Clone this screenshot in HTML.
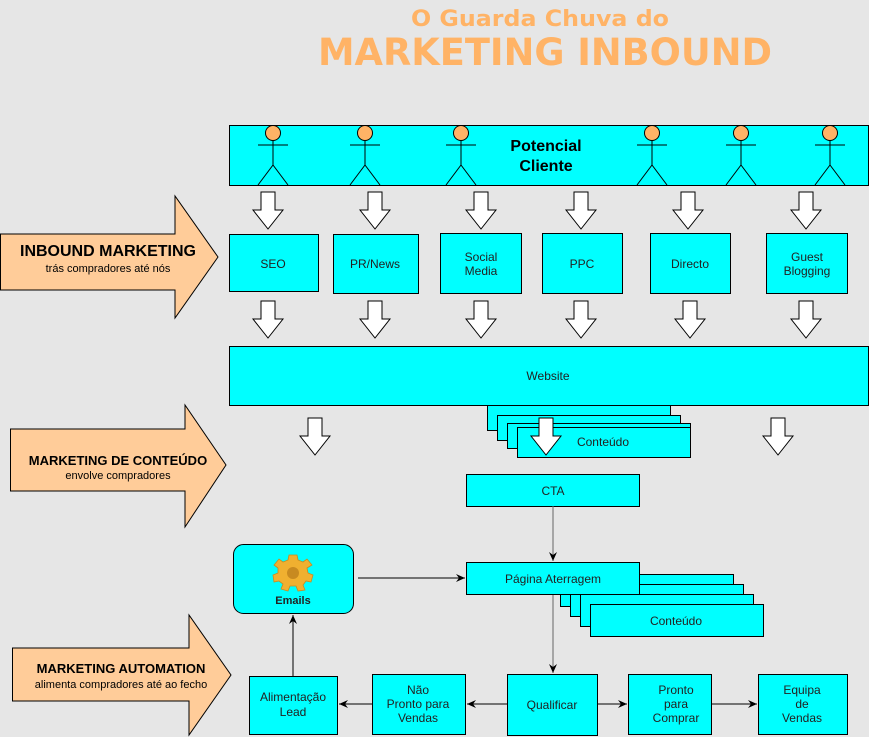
<!DOCTYPE html>
<html><head><meta charset="utf-8"><style>
html,body{margin:0;padding:0;background:#e6e6e6;}
svg{display:block;font-family:"Liberation Sans",sans-serif;}
</style></head><body>
<svg width="869" height="737" viewBox="0 0 869 737" xmlns="http://www.w3.org/2000/svg">
<defs>
<g id="da"><path d="M-7,0 H7 V18 H15 L0,37 L-15,18 H-7 Z" fill="#fff" stroke="#000" stroke-width="1"/></g>
<g id="p" stroke="#000" stroke-width="1" fill="none"><circle cx="0" cy="8" r="7.5" fill="#FFB366"/><line x1="0" y1="15.5" x2="0" y2="40"/><line x1="-15" y1="20" x2="15" y2="20"/><line x1="0" y1="40" x2="-15" y2="60"/><line x1="0" y1="40" x2="15" y2="60"/></g>
<marker id="ah" markerWidth="10" markerHeight="10" refX="9" refY="5" orient="auto" markerUnits="userSpaceOnUse"><path d="M0,1 L9,5 L0,9 L3,5 Z" fill="#000"/></marker>
</defs>
<rect width="869" height="737" fill="#e6e6e6"/>
<text x="540" y="26" text-anchor="middle" font-family="DejaVu Sans" font-weight="bold" font-size="22" fill="#FFB366" textLength="258" lengthAdjust="spacingAndGlyphs">O Guarda Chuva do</text>
<text x="545" y="65" text-anchor="middle" font-family="DejaVu Sans" font-weight="bold" font-size="37" fill="#FFB366" textLength="454" lengthAdjust="spacingAndGlyphs">MARKETING INBOUND</text>

<g stroke="#000" stroke-width="1" fill="#00FFFF">
<rect x="229.5" y="125.5" width="639" height="60"/>
</g>
<g transform="translate(273,125)"><use href="#p"/></g>
<g transform="translate(365,125)"><use href="#p"/></g>
<g transform="translate(461,125)"><use href="#p"/></g>
<g transform="translate(652,125)"><use href="#p"/></g>
<g transform="translate(741,125)"><use href="#p"/></g>
<g transform="translate(830,125)"><use href="#p"/></g>
<text x="546" y="151" text-anchor="middle" font-weight="bold" font-size="16">Potencial</text>
<text x="546" y="171" text-anchor="middle" font-weight="bold" font-size="16">Cliente</text>

<g fill="#FFCC99" stroke="#000" stroke-width="1">
<path d="M0.5,234 H175 V196 L218,257 L175,318 V290 H0.5 Z"/>
<path d="M10.5,429 H185 V405 L226,465 L185,527 V491 H10.5 Z"/>
<path d="M12.5,648 H189 V615 L231,675 L189,735 V701 H12.5 Z"/>
</g>
<text x="108" y="256" text-anchor="middle" font-weight="bold" font-size="16">INBOUND MARKETING</text>
<text x="108" y="272" text-anchor="middle" font-size="11">trás compradores até nós</text>
<text x="118" y="465" text-anchor="middle" font-weight="bold" font-size="13">MARKETING DE CONTEÚDO</text>
<text x="118" y="479" text-anchor="middle" font-size="11">envolve compradores</text>
<text x="121" y="673" text-anchor="middle" font-weight="bold" font-size="13">MARKETING AUTOMATION</text>
<text x="121" y="688" text-anchor="middle" font-size="11">alimenta compradores até ao fecho</text>

<use href="#da" x="268" y="192"/><use href="#da" x="375" y="192"/><use href="#da" x="481" y="192"/>
<use href="#da" x="581" y="192"/><use href="#da" x="688" y="192"/><use href="#da" x="806" y="192"/>
<use href="#da" x="268" y="301"/><use href="#da" x="375" y="301"/><use href="#da" x="481" y="301"/>
<use href="#da" x="581" y="301"/><use href="#da" x="690" y="301"/><use href="#da" x="806" y="301"/>

<g stroke="#000" stroke-width="1" fill="#00FFFF">
<rect x="229.5" y="234.5" width="89" height="57"/>
<rect x="333.5" y="234.5" width="85" height="59"/>
<rect x="440.5" y="233.5" width="81" height="60"/>
<rect x="542.5" y="233.5" width="80" height="60"/>
<rect x="650.5" y="233.5" width="80" height="60"/>
<rect x="766.5" y="233.5" width="81" height="60"/>
<rect x="229.5" y="346.5" width="639" height="59"/>
<rect x="487.5" y="405.5" width="183" height="25"/>
<rect x="497.5" y="415.5" width="183" height="25"/>
<rect x="507.5" y="423.5" width="183" height="25"/>
<rect x="517.5" y="427.5" width="173" height="30"/>
<rect x="466.5" y="474.5" width="173" height="32"/>
<rect x="560.5" y="574.5" width="173" height="32"/>
<rect x="570.5" y="584.5" width="173" height="32"/>
<rect x="580.5" y="594.5" width="173" height="32"/>
<rect x="590.5" y="604.5" width="173" height="32"/>
<rect x="466.5" y="562.5" width="173" height="32"/>
<rect x="233.5" y="544.5" width="120" height="69" rx="10"/>
<rect x="249.5" y="676.5" width="88" height="58"/>
<rect x="372.5" y="674.5" width="93" height="60"/>
<rect x="507.5" y="674.5" width="90" height="61"/>
<rect x="628.5" y="674.5" width="83" height="60"/>
<rect x="758.5" y="674.5" width="89" height="60"/>
</g>
<use href="#da" x="315" y="418"/><use href="#da" x="546" y="418"/><use href="#da" x="778" y="418"/>

<g font-size="12" text-anchor="middle" fill="#222">
<text x="273" y="268">SEO</text>
<text x="375" y="268">PR/News</text>
<text x="481" y="261">Social</text><text x="481" y="275">Media</text>
<text x="582" y="268">PPC</text>
<text x="690" y="268">Directo</text>
<text x="807" y="261">Guest</text><text x="807" y="275">Blogging</text>
<text x="548" y="380">Website</text>
<text x="603" y="446">Conteúdo</text>
<text x="553" y="495">CTA</text>
<text x="553" y="583">Página Aterragem</text>
<text x="676" y="625">Conteúdo</text>
<text x="293" y="604" font-weight="bold" font-size="11">Emails</text>
<text x="293" y="701">Alimentação</text><text x="293" y="716">Lead</text>
<text x="418" y="694">Não</text><text x="418" y="708">Pronto para</text><text x="418" y="722">Vendas</text>
<text x="552" y="709">Qualificar</text>
<text x="676" y="694">Pronto</text><text x="676" y="708">para</text><text x="676" y="722">Comprar</text>
<text x="802" y="694">Equipa</text><text x="802" y="708">de</text><text x="802" y="722">Vendas</text>
</g>

<g transform="translate(293,571)">
<path d="M-4,-16 H4 L5,-11 L10,-9 L14,-12 L19,-6 L14,-3 L15,2 L20,4 L18,11 L13,10 L10,14 L12,19 L5,20 L3,15 H-3 L-5,20 L-12,18 L-10,13 L-14,10 L-19,11 L-20,4 L-15,2 L-15,-3 L-19,-6 L-14,-12 L-10,-9 L-5,-11 Z" fill="#F0B030" stroke="#C88A20" stroke-width="0.8"/>
<circle cx="0" cy="2" r="6" fill="#C88A20"/>
</g>

<g stroke="#000" stroke-width="1" fill="none">
<line x1="553" y1="506" x2="553" y2="561" stroke="#666" marker-end="url(#ah)"/>
<line x1="358" y1="578" x2="465" y2="578" marker-end="url(#ah)"/>
<line x1="553" y1="595" x2="553" y2="673" stroke="#666" marker-end="url(#ah)"/>
<line x1="507" y1="704" x2="467" y2="704" marker-end="url(#ah)"/>
<line x1="372" y1="704" x2="339" y2="704" marker-end="url(#ah)"/>
<line x1="597" y1="704" x2="627" y2="704" marker-end="url(#ah)"/>
<line x1="711" y1="704" x2="757" y2="704" marker-end="url(#ah)"/>
<line x1="293" y1="676" x2="293" y2="615" marker-end="url(#ah)"/>
</g>
</svg>
</body></html>
